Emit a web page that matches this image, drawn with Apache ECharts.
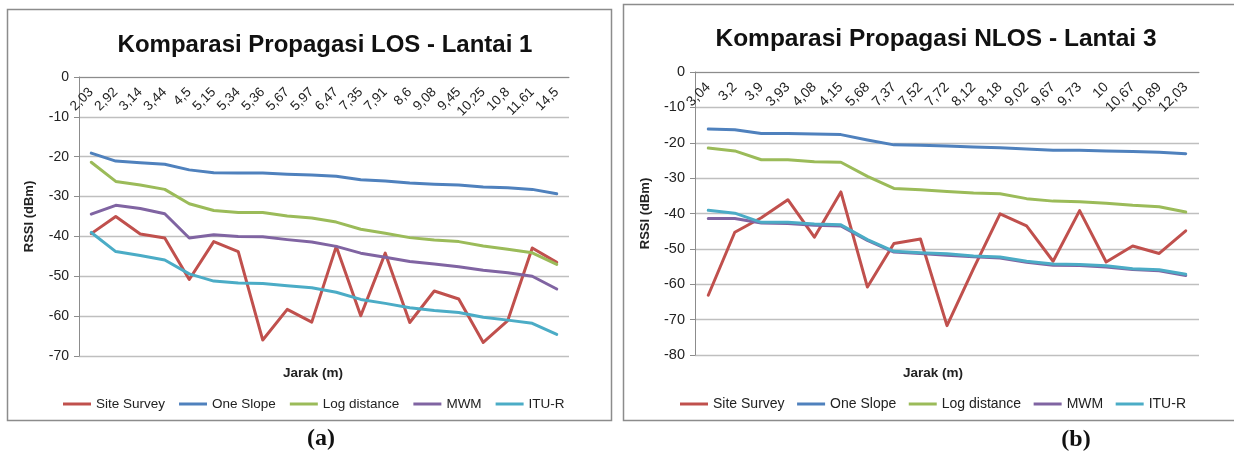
<!DOCTYPE html>
<html>
<head>
<meta charset="utf-8">
<script src="https://cdn.jsdelivr.net/npm/echarts@6/dist/echarts.min.js"></script>
<style>
  html, body { margin: 0; padding: 0; background: #fff; }
  #chart { width: 1234px; height: 457px; }
</style>
</head>
<body>
<div id="chart"></div>
<script>
// (a) LOS - Lantai 1
const jarakA = ['2,03', '2,92', '3,14', '3,44', '4,5', '5,15', '5,34', '5,36', '5,67', '5,97',
    '6,47', '7,35', '7,91', '8,6', '9,08', '9,45', '10,25', '10,8', '11,61', '14,5']
const siteA = [-39.3, -35.0, -39.4, -40.4, -50.8, -41.3, -43.8, -66.0, -58.3, -61.5,
    -42.5, -59.9, -44.2, -61.6, -53.7, -55.7, -66.6, -61.1, -42.9, -46.5]
const oneA = [-19.1, -21.1, -21.5, -21.9, -23.3, -24.0, -24.1, -24.1, -24.4, -24.6,
    -24.9, -25.8, -26.1, -26.6, -26.9, -27.1, -27.6, -27.8, -28.2, -29.3]
const logA = [-21.4, -26.2, -27.1, -28.2, -31.8, -33.5, -34.0, -34.0, -34.9, -35.4,
    -36.4, -38.2, -39.2, -40.3, -40.9, -41.3, -42.4, -43.2, -44.1, -47.0]
const mwmA = [-34.4, -32.2, -33.0, -34.3, -40.4, -39.6, -40.0, -40.1, -40.8, -41.4,
    -42.5, -44.2, -45.2, -46.3, -46.9, -47.6, -48.5, -49.1, -50.0, -53.2]
const ituA = [-39.0, -43.8, -44.8, -45.9, -49.4, -51.2, -51.7, -51.8, -52.4, -52.9,
    -54.0, -55.8, -56.8, -57.9, -58.6, -59.1, -60.3, -61.0, -61.8, -64.6]

// (b) NLOS - Lantai 3
const jarakB = ['3,04', '3,2', '3,9', '3,93', '4,08', '4,15', '5,68', '7,37', '7,52', '7,72',
    '8,12', '8,18', '9,02', '9,67', '9,73', '10', '10,67', '10,89', '12,03']
const siteB = [-63.1, -45.3, -41.2, -36.1, -46.7, -33.9, -60.8, -48.5, -47.2, -71.7,
    -55.6, -40.1, -43.5, -53.5, -39.2, -53.7, -49.2, -51.3, -44.9]
const oneB = [-16.1, -16.3, -17.4, -17.4, -17.5, -17.7, -19.2, -20.6, -20.7, -20.9,
    -21.2, -21.4, -21.8, -22.1, -22.1, -22.3, -22.5, -22.7, -23.1]
const logB = [-21.5, -22.3, -24.8, -24.8, -25.4, -25.5, -29.5, -32.9, -33.3, -33.8,
    -34.2, -34.4, -35.8, -36.5, -36.7, -37.1, -37.7, -38.1, -39.6]
const mwmB = [-41.4, -41.4, -42.7, -42.8, -43.3, -43.5, -47.6, -50.9, -51.3, -51.8,
    -52.2, -52.6, -53.8, -54.6, -54.7, -55.1, -55.8, -56.2, -57.5]
const ituB = [-39.1, -39.9, -42.5, -42.5, -43.0, -43.2, -47.4, -50.7, -51.1, -51.4,
    -52.0, -52.3, -53.5, -54.3, -54.4, -54.8, -55.6, -55.9, -57.2]

const names = ['Site Survey', 'One Slope', 'Log distance', 'MWM', 'ITU-R']
const colors = ['#C0504D', '#4F81BD', '#9BBB59', '#8064A2', '#4BACC6']
const font = 'Liberation Sans, Arial, sans-serif'

const chart = echarts.init(document.querySelector('#chart'))

const makeX = (idx, data, size) => ({
    type: 'category',
    gridIndex: idx,
    position: 'top',
    data: data,
    boundaryGap: true,
    axisLine: { lineStyle: { color: '#8c8c8c', width: 1 } },
    axisTick: { inside: true, length: 5, lineStyle: { color: '#8c8c8c' } },
    axisLabel: { inside: true, rotate: 45, interval: 0, margin: 13, fontSize: size, color: '#222', fontFamily: font },
    splitLine: { show: false }
})

const makeY = (idx, min, size, gap) => ({
    type: 'value',
    gridIndex: idx,
    min: min,
    max: 0,
    interval: 10,
    name: 'RSSI (dBm)',
    nameLocation: 'middle',
    nameRotate: 90,
    nameGap: gap,
    nameTextStyle: { fontSize: 13, fontWeight: 'bold', color: '#222', fontFamily: font },
    axisLine: { show: true, lineStyle: { color: '#8c8c8c', width: 1 } },
    axisTick: { show: true, length: 5, lineStyle: { color: '#8c8c8c' } },
    axisLabel: { fontSize: size, color: '#222', margin: 10, fontFamily: font },
    splitLine: { lineStyle: { color: '#bfbfbf', width: 1.3 } }
})

const makeSeries = (idx, list) => list.map((d, i) => ({
    name: names[i],
    type: 'line',
    xAxisIndex: idx,
    yAxisIndex: idx,
    data: d,
    symbol: 'none',
    lineStyle: { width: 3, color: colors[i], join: 'round', cap: 'round' },
    itemStyle: { color: colors[i] }
}))

const option = {
    animation: false,
    color: colors,
    title: [
        { text: 'Komparasi Propagasi LOS - Lantai 1', left: 320, top: 28, textAlign: 'center',
          textStyle: { fontSize: 24, fontWeight: 'bold', color: '#111', fontFamily: font } },
        { text: 'Komparasi Propagasi NLOS - Lantai 3', left: 931, top: 22, textAlign: 'center',
          textStyle: { fontSize: 24.5, fontWeight: 'bold', color: '#111', fontFamily: font } }
    ],
    grid: [
        { left: 79, top: 77, width: 490, height: 279 },
        { left: 695, top: 72, width: 504, height: 283 }
    ],
    legend: [
        { left: 58, top: 392, itemWidth: 28, itemHeight: 3, itemGap: 14, icon: 'rect',
          data: names, textStyle: { fontSize: 13.5, color: '#222', fontFamily: font } },
        { left: 675, top: 392, itemWidth: 28, itemHeight: 3, itemGap: 12.5, icon: 'rect',
          data: names.map(n => ({ name: n })), textStyle: { fontSize: 14, color: '#222', fontFamily: font } }
    ],
    xAxis: [makeX(0, jarakA, 13.5), makeX(1, jarakB, 14)],
    yAxis: [makeY(0, -70, 14, 43), makeY(1, -80, 14.5, 43)],
    series: [
        ...makeSeries(0, [siteA, oneA, logA, mwmA, ituA]),
        ...makeSeries(1, [siteB, oneB, logB, mwmB, ituB])
    ],
    graphic: [
        { type: 'rect', shape: { x: 7.5, y: 9.5, width: 604, height: 411 },
          style: { fill: 'none', stroke: '#8c8c8c', lineWidth: 1.5 }, silent: true },
        { type: 'rect', shape: { x: 623.5, y: 4.5, width: 620, height: 416 },
          style: { fill: 'none', stroke: '#8c8c8c', lineWidth: 1.5 }, silent: true },
        { type: 'text', x: 313, y: 373, style: { text: 'Jarak (m)', textAlign: 'center', textVerticalAlign: 'middle',
          font: 'bold 13.5px Liberation Sans, Arial, sans-serif', fill: '#222' } },
        { type: 'text', x: 933, y: 373, style: { text: 'Jarak (m)', textAlign: 'center', textVerticalAlign: 'middle',
          font: 'bold 13.5px Liberation Sans, Arial, sans-serif', fill: '#222' } },
        { type: 'text', x: 321, y: 439, style: { text: '(a)', textAlign: 'center', textVerticalAlign: 'middle',
          font: 'bold 24px Liberation Serif, serif', fill: '#111' } },
        { type: 'text', x: 1076, y: 440, style: { text: '(b)', textAlign: 'center', textVerticalAlign: 'middle',
          font: 'bold 24px Liberation Serif, serif', fill: '#111' } }
    ]
}

chart.setOption(option)
</script>
</body>
</html>
